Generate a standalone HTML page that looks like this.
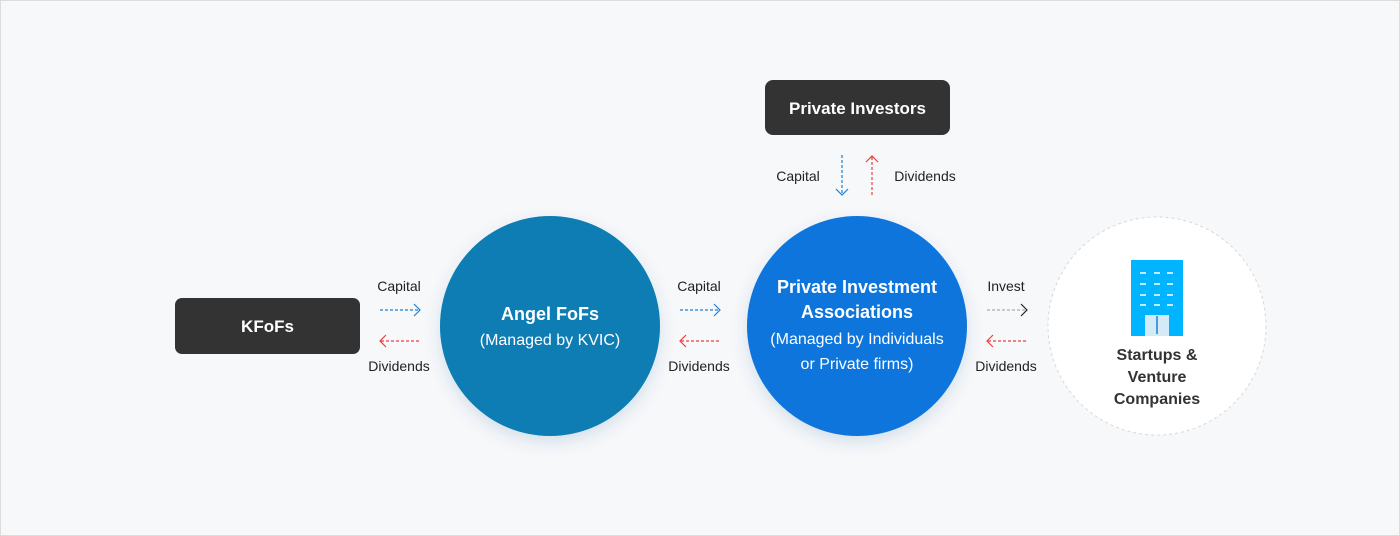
<!DOCTYPE html>
<html><head><meta charset="utf-8"><style>
html,body{margin:0;padding:0;background:#f7f8fa;}
svg{display:block;font-family:"Liberation Sans",Arial,sans-serif;}
</style></head><body>
<svg width="1400" height="536" viewBox="0 0 1400 536" xmlns="http://www.w3.org/2000/svg">
<defs>
<filter id="sh" x="-30%" y="-30%" width="160%" height="160%"><feDropShadow dx="0" dy="6" stdDeviation="8" flood-color="#1a4a8a" flood-opacity="0.15"/></filter>
</defs>
<rect x="0.5" y="0.5" width="1399" height="535" fill="#f7f8fa" stroke="#dcdcdc"/>
<!-- boxes -->
<rect x="175" y="298" width="185" height="56" rx="7" fill="#333"/>
<text x="267.5" y="332" text-anchor="middle" font-size="17" font-weight="bold" fill="#fff">KFoFs</text>
<rect x="765" y="80" width="185" height="55" rx="8" fill="#333"/>
<text x="857.5" y="114" text-anchor="middle" font-size="17" font-weight="bold" fill="#fff">Private Investors</text>
<!-- circles -->
<circle cx="550" cy="326" r="110" fill="#087db4" filter="url(#sh)"/>
<text x="550" y="320" text-anchor="middle" font-size="18" font-weight="bold" fill="#fff">Angel FoFs</text>
<text x="550" y="345" text-anchor="middle" font-size="16" fill="#fff">(Managed by KVIC)</text>
<circle cx="857" cy="326" r="110" fill="#0b74dc" filter="url(#sh)"/>
<text x="857" y="293" text-anchor="middle" font-size="18" font-weight="bold" fill="#fff">Private Investment</text>
<text x="857" y="318" text-anchor="middle" font-size="18" font-weight="bold" fill="#fff">Associations</text>
<text x="857" y="344" text-anchor="middle" font-size="16" fill="#fff">(Managed by Individuals</text>
<text x="857" y="369" text-anchor="middle" font-size="16" fill="#fff">or Private firms)</text>
<circle cx="1157" cy="326" r="109" fill="#fff" stroke="#d8d8d8" stroke-dasharray="3 3"/>
<!-- building -->
<rect x="1131" y="260" width="52" height="76" fill="#00b4ff"/>
<g stroke="#fff" stroke-width="1.5">
<line x1="1140" y1="273" x2="1146" y2="273"/><line x1="1154" y1="273" x2="1160" y2="273"/><line x1="1167" y1="273" x2="1173" y2="273"/>
<line x1="1140" y1="284" x2="1146" y2="284"/><line x1="1154" y1="284" x2="1160" y2="284"/><line x1="1167" y1="284" x2="1173" y2="284"/>
<line x1="1140" y1="295" x2="1146" y2="295"/><line x1="1154" y1="295" x2="1160" y2="295"/><line x1="1167" y1="295" x2="1173" y2="295"/>
<line x1="1140" y1="305" x2="1146" y2="305"/><line x1="1154" y1="305" x2="1160" y2="305"/><line x1="1167" y1="305" x2="1173" y2="305"/>
</g>
<rect x="1145" y="315" width="24" height="21" fill="#d4ebf7"/>
<line x1="1157" y1="316" x2="1157" y2="334" stroke="#1e7fd6" stroke-width="1.5"/>
<text x="1157" y="360" text-anchor="middle" font-size="16" font-weight="bold" fill="#333">Startups &amp;</text>
<text x="1157" y="382" text-anchor="middle" font-size="16" font-weight="bold" fill="#333">Venture</text>
<text x="1157" y="404" text-anchor="middle" font-size="16" font-weight="bold" fill="#333">Companies</text>
<!-- horizontal arrows -->
<g font-size="14" fill="#222" text-anchor="middle">
<text x="399" y="291">Capital</text><text x="399" y="371">Dividends</text>
<text x="699" y="291">Capital</text><text x="699" y="371">Dividends</text>
<text x="1006" y="291">Invest</text><text x="1006" y="371">Dividends</text>
<text x="798" y="181">Capital</text><text x="925" y="181">Dividends</text>
</g>
<g fill="none" stroke-width="1.2">
<g stroke="#1e7fd6"><line x1="380" y1="310" x2="419" y2="310" stroke-dasharray="3 2"/><polyline points="414,304 420,310 414,316"/></g>
<g stroke="#f03c3c"><line x1="381" y1="341" x2="420" y2="341" stroke-dasharray="3 2"/><polyline points="386,335 380,341 386,347"/></g>
<g stroke="#1e7fd6"><line x1="680" y1="310" x2="719" y2="310" stroke-dasharray="3 2"/><polyline points="714,304 720,310 714,316"/></g>
<g stroke="#f03c3c"><line x1="681" y1="341" x2="720" y2="341" stroke-dasharray="3 2"/><polyline points="686,335 680,341 686,347"/></g>
<g><line x1="987" y1="310" x2="1026" y2="310" stroke="#aaa" stroke-dasharray="3 2"/><polyline points="1021,304 1027,310 1021,316" stroke="#222"/></g>
<g stroke="#f03c3c"><line x1="988" y1="341" x2="1027" y2="341" stroke-dasharray="3 2"/><polyline points="993,335 987,341 993,347"/></g>
<g stroke="#1e7fd6"><line x1="842" y1="155" x2="842" y2="194" stroke-dasharray="3 2"/><polyline points="836,189 842,195 848,189"/></g>
<g stroke="#f03c3c"><line x1="872" y1="157" x2="872" y2="196" stroke-dasharray="3 2"/><polyline points="866,162 872,156 878,162"/></g>
</g>
</svg>
</body></html>
